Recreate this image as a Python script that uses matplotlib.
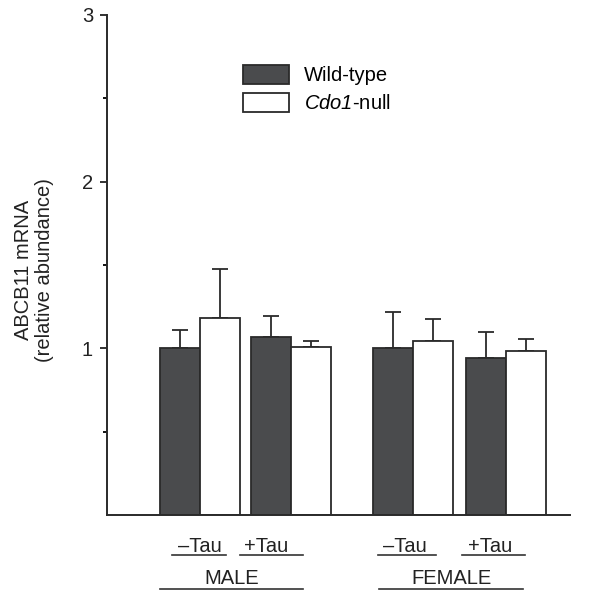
import matplotlib.pyplot as plt
import numpy as np

plt.rcParams['font.family'] = ['Liberation Sans', 'DejaVu Sans']
# mathtext is used only for the italic gene name, digits included
plt.rcParams['mathtext.fontset'] = 'custom'
plt.rcParams['mathtext.it'] = 'Liberation Sans:italic'
plt.rcParams['mathtext.rm'] = 'Liberation Sans:italic'

# Data
groups = ['\u2013Tau', '+Tau', '\u2013Tau', '+Tau']
sexes = ['MALE', 'FEMALE']
wild_type = [1.00, 1.07, 1.00, 0.94]
wild_type_err = [0.11, 0.125, 0.22, 0.16]
cdo1_null = [1.185, 1.008, 1.044, 0.982]
cdo1_null_err = [0.29, 0.036, 0.133, 0.072]

# x positions of each -Tau/+Tau pair (bar width = 1)
pair_pos = np.array([0.0, 2.28, 5.33, 7.65])
# label placement below the axis (data x units)
group_text_x = [-0.01, 1.65, 5.12, 7.25]
group_lines = [(-0.7, 0.65), (1.0, 2.58), (4.45, 5.9), (6.55, 8.13)]
sex_lines = [(-1.0, 2.58), (4.47, 8.08)]

fig = plt.figure(figsize=(5.9, 5.91), dpi=100)
ax = fig.add_axes([107 / 590, 76 / 591, 463 / 590, 500 / 591])

dark = '#4a4b4d'
edge = '#2a2a2a'
ax.bar(pair_pos - 0.5, wild_type, width=1, color=dark, edgecolor=edge, linewidth=1.3,
       label='Wild-type', zorder=2)
ax.bar(pair_pos + 0.5, cdo1_null, width=1, color='white', edgecolor=edge, linewidth=1.3,
       label='$\\mathrm{Cdo1}$-null', zorder=2)

# only upper error bars
ax.errorbar(pair_pos - 0.5, wild_type, yerr=[np.zeros(4), wild_type_err], fmt='none',
            ecolor=edge, elinewidth=1.3, capsize=6, capthick=1.3, zorder=1)
ax.errorbar(pair_pos + 0.5, cdo1_null, yerr=[np.zeros(4), cdo1_null_err], fmt='none',
            ecolor=edge, elinewidth=1.3, capsize=6, capthick=1.3, zorder=1)

ax.set_xlim(-2.33, 9.25)
ax.set_ylim(0, 3)
ax.set_yticks([1, 2, 3])
ax.set_yticks([0.5, 1.5, 2.5], minor=True)
ax.tick_params(axis='y', which='major', length=5, width=1.3, pad=5, labelsize=14.5,
               colors='#222222')
ax.tick_params(axis='y', which='minor', length=3, width=1.3)
ax.set_xticks([])
for s in ['top', 'right']:
    ax.spines[s].set_visible(False)
for s in ['left', 'bottom']:
    ax.spines[s].set_linewidth(1.4)
    ax.spines[s].set_color('#2a2a2a')

fig.text(34 / 590, 1 - 270 / 591, 'ABCB11 mRNA\n(relative abundance)', rotation=90,
         ha='center', va='center', multialignment='center', fontsize=14.5,
         linespacing=1.15, color='#222222')

# group labels with underlines below the axis
for x, g, (a, b) in zip(group_text_x, groups, group_lines):
    ax.text(x, -0.19, g, ha='center', va='center', fontsize=14.5, clip_on=False,
            color='#222222')
    ax.plot([a, b], [-0.24, -0.24], color='#333333', lw=1.2, clip_on=False)
for s, (a, b) in zip(sexes, sex_lines):
    ax.text((a + b) / 2, -0.38, s, ha='center', va='center', fontsize=14.5, clip_on=False,
            color='#222222')
    ax.plot([a, b], [-0.444, -0.444], color='#333333', lw=1.2, clip_on=False)

ax.legend(loc='upper left', bbox_to_anchor=(0.294, 0.9), frameon=False, fontsize=14.5,
          borderpad=0, borderaxespad=0, handlelength=2.3, handleheight=1.05,
          handletextpad=0.7, labelspacing=0.4)

fig.savefig('out.png', dpi=100)
